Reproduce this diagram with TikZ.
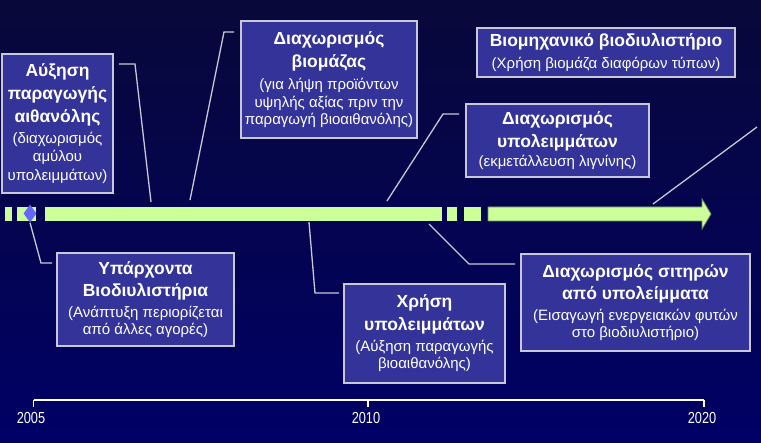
\documentclass[tikz,border=0pt]{standalone}
\usepackage{fontspec}
\setmainfont{Liberation Sans}
\usetikzlibrary{shapes.geometric}
\definecolor{boxfill}{RGB}{51,51,153}
\definecolor{boxline}{RGB}{200,200,215}
\definecolor{barg}{RGB}{204,255,153}
\definecolor{bargd}{RGB}{110,150,100}
\definecolor{diac}{RGB}{102,102,255}
\definecolor{bgtop}{RGB}{8,8,58}
\definecolor{bgbot}{RGB}{0,0,102}
\definecolor{connc}{RGB}{200,200,210}
\newcommand\titf{\fontsize{17.5}{17.5}\bfseries\selectfont}
\newcommand\subf{\fontsize{15}{17.5}\mdseries\selectfont}
\tikzset{
  box/.style={draw=boxline, line width=1.3pt, fill=boxfill, text=white, align=center, inner sep=0pt,
    font={\fontsize{15}{17.5}\selectfont\lineskiplimit=-50pt\lineskip=0pt\relax}},
  conn/.style={draw=connc, line width=1.3pt},
  barseg/.style={fill=barg},
  yearlbl/.style={text=white, font=\fontsize{16}{16}\selectfont, inner sep=0pt}
}
\begin{document}
\begin{tikzpicture}[x=1pt,y=-1pt]
\useasboundingbox (0,0) rectangle (761,443);
\shade[top color=bgtop, bottom color=bgbot] (0,0) rectangle (761,443);

% timeline bar
\fill[barseg] (5,207) rectangle (12,221);
\fill[barseg] (17,207) rectangle (36,221);
\fill[barseg] (45,207) rectangle (442,221);
\fill[barseg] (447,207) rectangle (457,221);
\fill[barseg] (464,207) rectangle (481,221);
\filldraw[fill=barg, draw=bargd, line width=0.8pt] (488,207) -- (702,207) -- (702,199) -- (711,214) -- (702,229) -- (702,221) -- (488,221) -- cycle;
\node[diamond, fill=diac, inner sep=0pt, minimum width=13, minimum height=18] (dia) at (30,213.5) {};

% boxes
\node[box, minimum width=111, minimum height=139] (b1) at (57.5,123.5)
  {\titf Αύξηση\\[5.5pt]\titf παραγωγής\\[5.5pt]\titf αιθανόλης\\[3.5pt]\subf (διαχωρισμός\\[1pt]\subf αμύλου\\[1pt]\subf υπολειμμάτων)};
\node[box, minimum width=176, minimum height=117] (b2) at (329,79.5)
  {\titf Διαχωρισμός\\[5.5pt]\titf βιομάζας\\[5pt]\subf (για λήψη προϊόντων\\\subf υψηλής αξίας πριν την\\\subf παραγωγή βιοαιθανόλης)};
\node[box, minimum width=258, minimum height=49] (b3) at (606,52.5)
  {\titf Βιομηχανικό βιοδιυλιστήριο\\[4pt]\subf (Χρήση βιομάζα διαφόρων τύπων)};
\node[box, minimum width=183, minimum height=73] (b4) at (557.5,140.5)
  {\titf Διαχωρισμός\\[5.5pt]\titf υπολειμμάτων\\[1pt]\subf (εκμετάλλευση λιγνίνης)};
\node[box, minimum width=177, minimum height=93] (b5) at (145.5,299.5)
  {\titf Υπάρχοντα\\[5pt]\titf Βιοδιυλιστήρια\\[3pt]\subf (Ανάπτυξη περιορίζεται\\\subf από άλλες αγορές)};
\node[box, minimum width=161, minimum height=99] (b6) at (424.5,333.5)
  {\titf Χρήση\\[5pt]\titf υπολειμμάτων\\[3.5pt]\subf (Αύξηση παραγωγής\\\subf βιοαιθανόλης)};
\node[box, minimum width=229, minimum height=97] (b7) at (635.5,302.5)
  {\titf Διαχωρισμός σιτηρών\\[5pt]\titf από υπολείμματα\\[3pt]\subf (Εισαγωγή ενεργειακών φυτών\\\subf στο βιοδιυλιστήριο)};

% connector coordinates
\coordinate (c1a) at (119,64);  \coordinate (c1b) at (135,64);  \coordinate (c1c) at (151,202);
\coordinate (c2a) at (234,32);  \coordinate (c2b) at (224,32);  \coordinate (c2c) at (190,200);
\coordinate (c4a) at (459,114); \coordinate (c4b) at (443,114); \coordinate (c4c) at (387,201);
\coordinate (c3a) at (757,127); \coordinate (c3c) at (653,204);
\coordinate (c5b) at (41,263);  \coordinate (c5c) at (52,263);
\coordinate (c6a) at (309,222); \coordinate (c6b) at (315,293); \coordinate (c6c) at (339,293);
\coordinate (c7a) at (429,224); \coordinate (c7b) at (469,264); \coordinate (c7c) at (515,264);

\draw[conn] (c1a) -- (c1b) -- (c1c);
\draw[conn] (c2a) -- (c2b) -- (c2c);
\draw[conn] (c4a) -- (c4b) -- (c4c);
\draw[conn] (c3a) -- (c3c);
\draw[conn] (dia.south) -- (c5b) -- (c5c);
\draw[conn] (c6a) -- (c6b) -- (c6c);
\draw[conn] (c7a) -- (c7b) -- (c7c);

% time axis
\coordinate (t1) at (33.5,400); \coordinate (t2) at (368,400); \coordinate (t3) at (704,400);
\draw[white, line width=1.2pt] (t1) -- (t3);
\draw[white, line width=1.2pt] (t1) -- ++(0,7);
\draw[white, line width=1.2pt] (t2) -- ++(0,7);
\draw[white, line width=1.2pt] (t3) -- ++(0,7);
\node[yearlbl] (y1) at (31,418) {\scalebox{0.8}[1]{2005}};
\node[yearlbl] (y2) at (366,418) {\scalebox{0.8}[1]{2010}};
\node[yearlbl] (y3) at (702,418) {\scalebox{0.8}[1]{2020}};
\end{tikzpicture}
\end{document}
